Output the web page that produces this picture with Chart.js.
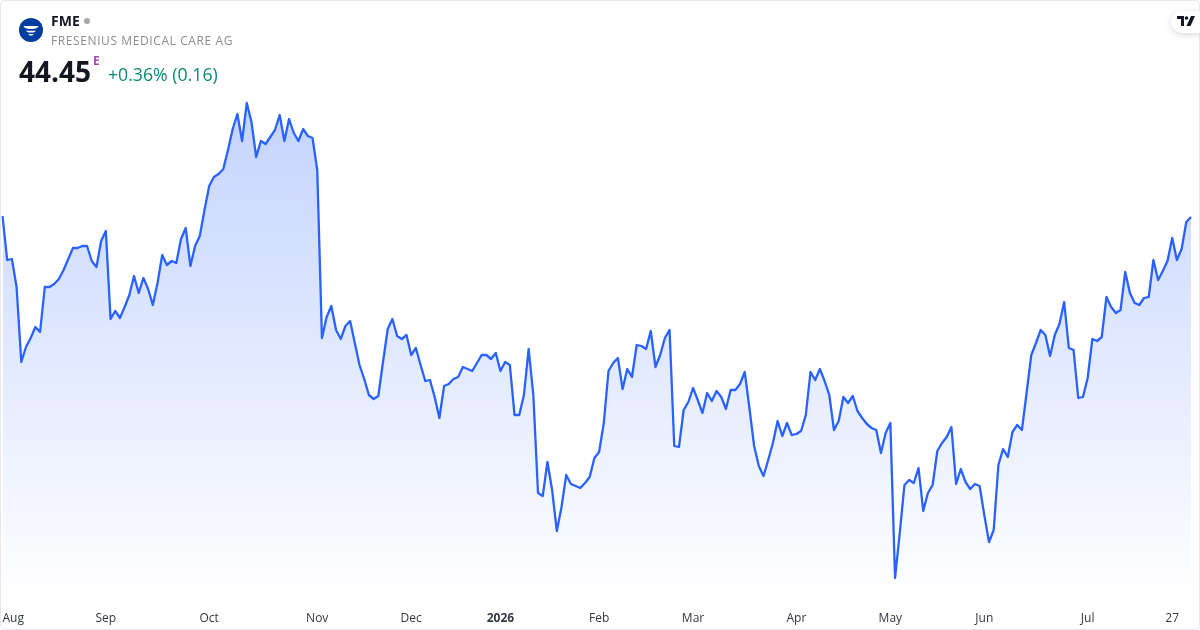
<!DOCTYPE html>
<html>
<head>
<meta charset="utf-8">
<title>FME</title>
<script src="https://cdn.jsdelivr.net/npm/chart.js@4/dist/chart.umd.min.js"></script>
<style>
  html, body { margin: 0; padding: 0; background: #fff; }
  body { width: 1200px; height: 630px; overflow: hidden; position: relative; font-family: "Open Sans", sans-serif; }
  #chart { position: absolute; left: 0; top: 0; }
  .frame { position: absolute; left: 0; top: 0; width: 1198px; height: 628px; border: 1px solid #e6e8ee; border-radius: 5px; pointer-events: none; }
  .logo { position: absolute; left: 19px; top: 18px; width: 24px; height: 24px; }
  .ticker { position: absolute; left: 51px; top: 11px; font-size: 14px; font-weight: 700; line-height: 20px; color: #131722; }
  .dot { position: absolute; left: 84px; top: 18px; width: 6px; height: 6px; border-radius: 50%; background: #a8a8a8; }
  .name { position: absolute; left: 51px; top: 32px; font-size: 12px; line-height: 17px; letter-spacing: 0.6px; color: #8a8d94; white-space: nowrap; }
  .price { position: absolute; left: 19px; top: 52px; font-size: 28px; font-weight: 700; line-height: 38px; color: #131722; }
  .session { position: absolute; left: 93px; top: 53px; font-size: 12px; font-weight: 700; line-height: 16px; color: #ab47bc; }
  .change { position: absolute; left: 108px; top: 62px; font-size: 17.7px; line-height: 25px; color: #0a8a72; white-space: nowrap; }
  .tv { position: absolute; left: 1171px; top: 11px; width: 29px; height: 22px; background: #fff; border-radius: 11px 0 0 11px; box-shadow: 0 2px 6px rgba(0,0,0,0.15); }
  .tv svg { position: absolute; left: 6px; top: 5px; }
</style>
</head>
<body>
<canvas id="chart" width="1200" height="630"></canvas>
<div class="frame"></div>
<svg class="logo" viewBox="0 0 24 24">
  <circle cx="12" cy="12" r="12" fill="#003d9c"/>
  <path d="M4.5 8h15c-.8 2-2.5 3-7.500 3S5.300 10 4.500 8z" fill="#fff"/>
  <path d="M7 12.700h10c-.8 1.300-2.300 1.800-5 1.800s-4.200-.5-5-1.800z" fill="#fff"/>
  <path d="M9.500 16h5c-.4 1-1.200 1.500-2.500 1.500s-2.100-.5-2.500-1.500z" fill="#fff"/>
</svg>
<div class="ticker">FME</div>
<div class="dot"></div>
<div class="name">FRESENIUS MEDICAL CARE AG</div>
<div class="price">44.45</div>
<div class="session">E</div>
<div class="change">+0.36% (0.16)</div>
<div class="tv">
  <svg width="18" height="11" viewBox="0 0 18 11">
    <path d="M0 0h7v10H4V3H0z" fill="#131722"/>
    <circle cx="9.500" cy="2" r="1.800" fill="#131722"/>
    <path d="M14 0h4l-4.500 10H9.500z" fill="#131722"/>
  </svg>
</div>
<script>
// Daily closes
const closes = [
  44.49, 42.73, 42.77, 41.65, 38.65, 39.25, 39.61, 40.05, 39.85, 41.65, 41.65, 41.77, 41.97, 42.33, 42.77, 43.21, 43.21, 43.29, 43.29, 42.69, 42.45, 43.49,
  43.89, 40.37, 40.69, 40.41, 40.85, 41.33, 42.09, 41.41, 42.01, 41.57, 40.93, 41.81, 42.93, 42.53, 42.69, 42.61, 43.57, 44.01, 42.49, 43.29, 43.69, 44.73,
  45.69, 46.05, 46.17, 46.37, 47.13, 47.97, 48.57, 47.49, 49.01, 48.25, 46.85, 47.49, 47.37, 47.65, 47.93, 48.53, 47.49, 48.37, 47.81, 47.49, 47.97, 47.69, 47.61,
  46.33, 39.61, 40.45, 40.89, 39.93, 39.57, 40.09, 40.29, 39.41, 38.53, 37.97, 37.33, 37.17, 37.29, 38.65, 39.97, 40.37, 39.69, 39.57, 39.73,
  38.93, 39.21, 38.53, 37.89, 37.93, 37.25, 36.41, 37.69, 37.77, 37.97, 38.05, 38.45, 38.37, 38.29, 38.61, 38.93, 38.93, 38.77, 39.01,
  38.29, 38.65, 38.53, 36.53, 36.53, 37.33, 39.17, 37.33, 33.41, 33.29, 34.65, 33.53, 31.89, 32.85, 34.13, 33.77, 33.69, 33.61, 33.81, 34.05, 34.81,
  35.05, 36.21, 38.29, 38.61, 38.81, 37.57, 38.37, 38.05, 39.33, 39.29, 39.17, 39.89, 38.45, 38.93, 39.61, 39.93, 35.29, 35.25, 36.73, 37.05,
  37.61, 37.13, 36.61, 37.41, 37.09, 37.49, 37.25, 36.77, 37.53, 37.53, 37.77, 38.25, 36.81, 35.29, 34.49, 34.09, 34.73, 35.41, 36.29, 35.69,
  36.21, 35.73, 35.77, 35.89, 36.53, 38.25, 37.93, 38.37, 37.89, 37.33, 35.93, 36.29, 37.25, 37.01, 37.29, 36.69, 36.41, 36.17, 36.01, 35.93, 35.01, 35.81, 36.21,
  30.01, 31.81, 33.73, 33.93, 33.81, 34.41, 32.69, 33.41, 33.73, 35.09, 35.41, 35.65, 36.05, 33.77, 34.37, 33.85, 33.57, 33.77, 33.69,
  32.53, 31.45, 31.93, 34.53, 35.17, 34.85, 35.85, 36.13, 35.93, 37.41, 38.93, 39.41, 39.93, 39.73, 38.89, 39.73, 40.17, 41.05, 39.21, 39.13, 37.21, 37.25,
  38.01, 39.57, 39.49, 39.65, 41.25, 40.85, 40.61, 40.73, 42.25, 41.41, 41.01, 40.93, 41.21, 41.25, 42.73, 41.93, 42.29, 42.69, 43.61, 42.73, 43.17, 44.25, 44.45
]

// Where each axis label sits in the closes array
const tickIndexes = [0, 22, 44, 67, 87, 106, 127, 147, 169, 189, 209, 231, 249]
const tickLabels = ["Aug", "Sep", "Oct", "Nov", "Dec", "2026", "Feb", "Mar", "Apr", "May", "Jun", "Jul", "27"]

const labels = closes.map((_, i) => {
  const pos = tickIndexes.indexOf(i)
  return pos >= 0 ? tickLabels[pos] : ""
})

new Chart(document.getElementById("chart"), {
  type: "line",
  data: {
    labels: labels,
    datasets: [
      {
        data: closes,
        borderColor: "#2962ff",
        borderWidth: 2.3,
        borderJoinStyle: "round",
        pointRadius: 0,
        tension: 0,
        fill: "start",
        backgroundColor: (ctx) => {
          const g = ctx.chart.ctx.createLinearGradient(0, 100, 0, 600)
          g.addColorStop(0, "rgba(41, 98, 255, 0.28)")
          g.addColorStop(1, "rgba(41, 98, 255, 0)")
          return g
        },
      },
    ],
  },
  options: {
    responsive: false,
    animation: false,
    layout: { padding: { left: 2.5, right: 9, top: 0, bottom: 0 } },
    plugins: { legend: { display: false }, tooltip: { enabled: false } },
    scales: {
      x: {
        offset: false,
        grid: { display: false, drawTicks: false },
        border: { display: false },
        afterFit: (scale) => {
          // the long first label must not push the plot area inwards
          scale.height = 30
          scale.paddingLeft = 0
          scale.paddingRight = 0
        },
        ticks: {
          autoSkip: false,
          maxRotation: 0,
          align: "inner",
          padding: 11,
          color: "#333740",
          font: (ctx) => ({
            family: "'Open Sans', sans-serif",
            size: 12,
            weight: ctx.tick && ctx.tick.label === "2026" ? "700" : "400",
          }),
        },
      },
      y: { display: false, min: 29.13, max: 53.13 },
    },
  },
})
</script>
</body>
</html>
